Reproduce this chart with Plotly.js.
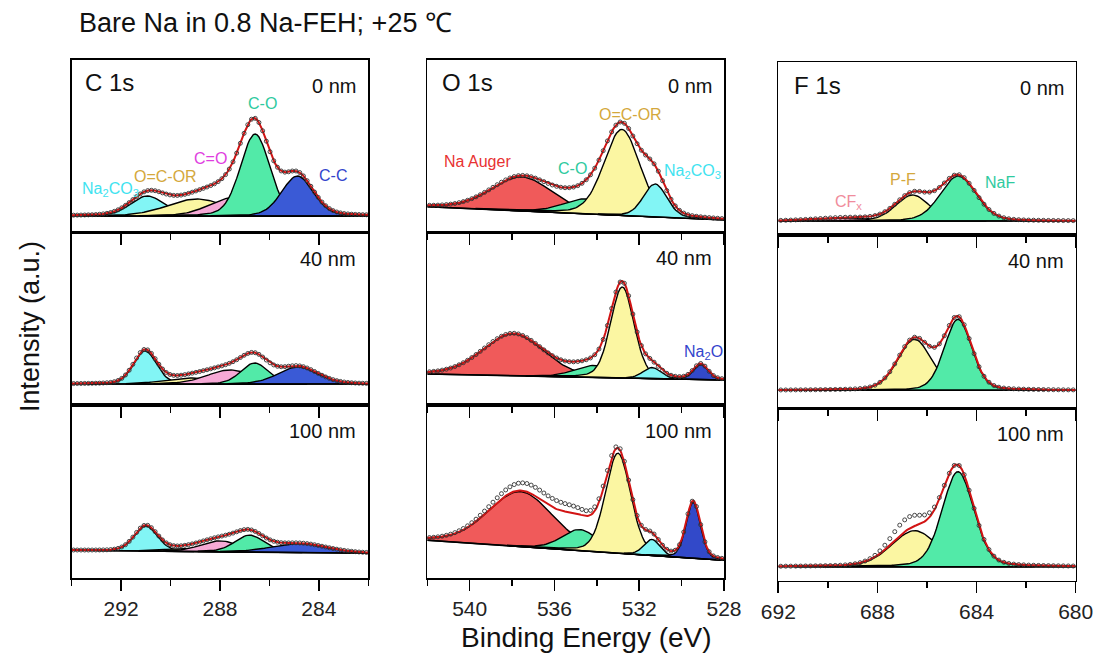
<!DOCTYPE html>
<html>
<head>
<meta charset="utf-8">
<script src="https://cdn.plot.ly/plotly-3.0.1.min.js"></script>
<style>html,body{margin:0;padding:0;background:#fff}#chart{width:1100px;height:659px}</style>
</head>
<body>
<div id="chart"></div>
<script>
// ---------------- DATA ----------------
const c1sRange = [294, 282];
const o1sRange = [542, 528];
const f1sRange = [692, 680];

const depthLabels = ['0 nm', '40 nm', '100 nm'];

// C 1s components
const c1sNames = ['Na2CO3', 'O=C-OR', 'C=O', 'C-O', 'C-C'];
const c1s0Center = [290.94, 288.94, 287.53, 286.58, 284.87];
const c1s0Height = [20, 17, 18, 82, 40];
const c1s0Fwhm   = [1.6, 2.8, 2.2, 1.4, 1.5];
const c1s40Center = [291.03, 289.2, 287.6, 286.6, 284.85];
const c1s40Height = [33, 6, 14, 21, 17];
const c1s40Fwhm   = [1.1, 2.4, 2.2, 1.3, 1.9];
const c1s100Center = [291.0, 289.3, 288.0, 286.8, 284.8];
const c1s100Height = [25, 3, 11, 17, 9];
const c1s100Fwhm   = [1.1, 2.2, 1.8, 1.4, 2.6];
const c1sBaseline = [[16.7, 16.7], [21, 21], [28, 25]];

// O 1s components
const o1s0Names = ['Na Auger', 'C-O', 'O=C-OR', 'Na2CO3'];
const o1s0Center = [537.54, 534.47, 532.82, 531.25];
const o1s0Height = [34, 15, 86, 33];
const o1s0Fwhm   = [3.4, 2.6, 2.0, 1.3];
const o1sNames = ['Na Auger', 'C-O', 'O=C-OR', 'Na2CO3', 'Na2O'];
const o1s40Center = [537.95, 534.1, 532.8, 531.4, 529.1];
const o1s40Height = [42, 12, 91, 11, 15];
const o1s40Fwhm   = [3.4, 2.2, 1.3, 1.0, 0.8];
const o1s100Center = [537.6, 534.8, 533.0, 531.4, 529.45];
const o1s100Height = [55, 21, 100, 16, 56];
const o1s100Fwhm   = [3.6, 2.0, 1.4, 0.9, 0.8];
const o1sBaseline = [[25.6, 12.3], [31, 25], [38, 18]];
// measured counts above the fit (unfitted shoulder): center, height, fwhm
const o1s100Excess = [536.5, 9, 4.5];

// F 1s components
const f1s0Names = ['CFx', 'P-F', 'NaF'];
const f1s0Center = [689.2, 686.58, 684.74];
const f1s0Height = [3, 26, 45];
const f1s0Fwhm   = [3.0, 1.6, 1.7];
const f1sNames = ['P-F', 'NaF'];
const f1s40Center = [686.5, 684.75];
const f1s40Height = [51, 71];
const f1s40Fwhm   = [1.6, 1.3];
const f1s100Center = [686.5, 684.75];
const f1s100Height = [36, 95];
const f1s100Fwhm   = [2.2, 1.5];
const f1sBaseline = [[14, 14], [18, 18], [14, 14]];
const f1s100Excess = [686.8, 12, 1.5];

// ---------------- STYLE ----------------
const fillColors = {
  'Na2CO3': '#82f5f5', 'O=C-OR': '#fbf6a2', 'C=O': '#f6a9d6', 'C-O': '#52eaa8',
  'C-C': '#3a5ad6', 'Na Auger': '#f05a5a', 'Na2O': '#3249c9', 'CFx': '#f6b0c8',
  'P-F': '#fbf6a2', 'NaF': '#52eaa8'
};
const FONT = 'Liberation Sans, Arial, Helvetica, sans-serif';
const W = 1100, H = 659;
const px2x = p => p / W;
const px2y = p => 1 - p / H;

const colX = [[71.7, 368.3], [427.3, 724], [778.3, 1075.7]];
const rowY = [
  [[60, 232.7], [232.7, 405], [405, 578.3]],
  [[60, 232.3], [232.3, 405], [405, 578.3]],
  [[62.3, 235], [235, 408.3], [408.3, 580.7]]
];
const dataStep = [0.15, 0.2, 0.2];

const panels = [
  {col:0,row:0, range:c1sRange, names:c1sNames, c:c1s0Center, h:c1s0Height, w:c1s0Fwhm, bl:c1sBaseline[0]},
  {col:0,row:1, range:c1sRange, names:c1sNames, c:c1s40Center, h:c1s40Height, w:c1s40Fwhm, bl:c1sBaseline[1]},
  {col:0,row:2, range:c1sRange, names:c1sNames, c:c1s100Center, h:c1s100Height, w:c1s100Fwhm, bl:c1sBaseline[2]},
  {col:1,row:0, range:o1sRange, names:o1s0Names, c:o1s0Center, h:o1s0Height, w:o1s0Fwhm, bl:o1sBaseline[0]},
  {col:1,row:1, range:o1sRange, names:o1sNames, c:o1s40Center, h:o1s40Height, w:o1s40Fwhm, bl:o1sBaseline[1]},
  {col:1,row:2, range:o1sRange, names:o1sNames, c:o1s100Center, h:o1s100Height, w:o1s100Fwhm, bl:o1sBaseline[2], ex:o1s100Excess},
  {col:2,row:0, range:f1sRange, names:f1s0Names, c:f1s0Center, h:f1s0Height, w:f1s0Fwhm, bl:f1sBaseline[0]},
  {col:2,row:1, range:f1sRange, names:f1sNames, c:f1s40Center, h:f1s40Height, w:f1s40Fwhm, bl:f1sBaseline[1]},
  {col:2,row:2, range:f1sRange, names:f1sNames, c:f1s100Center, h:f1s100Height, w:f1s100Fwhm, bl:f1sBaseline[2], ex:f1s100Excess}
];

// Gaussian-Lorentzian (GL20) line shape, as used for XPS component fits
const GL = 0.2;
const g = (E, c, h, w) => {
  const u = (E - c) * (E - c) / (w * w);
  return h * ((1 - GL) * Math.exp(-4 * Math.LN2 * u) + GL / (1 + 4 * u));
};

const traces = [];
const layout = {
  width: W, height: H, margin: {l:0, r:0, t:0, b:0},
  paper_bgcolor: '#fff', plot_bgcolor: '#fff', showlegend: false,
  font: {family: FONT, color: '#111'},
  annotations: []
};

panels.forEach((p, i) => {
  const k = i + 1;
  const xa = k === 1 ? 'x' : 'x' + k;
  const ya = k === 1 ? 'y' : 'y' + k;
  const hi = p.range[0], lo = p.range[1];
  const ry = rowY[p.col][p.row];
  const hPx = ry[1] - ry[0];
  const base = E => p.bl[0] + (p.bl[1] - p.bl[0]) * (hi - E) / (hi - lo);

  p.c.forEach((c, j) => {
    const xs = [], ys = [];
    const n = 160;
    const pts = [];
    for (let m = 0; m <= n; m++) {
      const E = hi - (hi - lo) * m / n;
      const v = g(E, c, p.h[j], p.w[j]);
      if (v > 0.35) pts.push([E, v]);
    }
    pts.forEach(q => { xs.push(q[0]); ys.push(base(q[0]) + q[1]); });
    for (let m = pts.length - 1; m >= 0; m--) { xs.push(pts[m][0]); ys.push(base(pts[m][0])); }
    traces.push({x: xs, y: ys, xaxis: xa, yaxis: ya, mode: 'lines', fill: 'toself',
      fillcolor: fillColors[p.names[j]], line: {color: '#000', width: 1.4}, hoverinfo: 'skip'});
  });
  traces.push({x: [hi, lo], y: [base(hi), base(lo)], xaxis: xa, yaxis: ya, mode: 'lines',
    line: {color: '#000', width: 1.6}, hoverinfo: 'skip'});

  const ex = [], ey = [], dx = [], dy = [];
  for (let E = hi; E >= lo - 1e-9; E -= 0.05) {
    let s = base(E);
    p.c.forEach((c, j) => { s += g(E, c, p.h[j], p.w[j]); });
    ex.push(E); ey.push(s);
  }
  const st = dataStep[p.col];
  for (let E = hi - st / 2; E >= lo; E -= st) {
    let s = base(E);
    p.c.forEach((c, j) => { s += g(E, c, p.h[j], p.w[j]); });
    if (p.ex) s += p.ex[1] * Math.exp(-4 * Math.LN2 * (E - p.ex[0]) * (E - p.ex[0]) / (p.ex[2] * p.ex[2]));
    dx.push(E); dy.push(s);
  }
  traces.push({x: ex, y: ey, xaxis: xa, yaxis: ya, mode: 'lines',
    line: {color: '#d21414', width: 2}, hoverinfo: 'skip'});
  traces.push({x: dx, y: dy, xaxis: xa, yaxis: ya, mode: 'markers',
    marker: {symbol: 'circle-open', size: 4, color: '#333', line: {width: 0.9}}, hoverinfo: 'skip'});

  layout[k === 1 ? 'xaxis' : 'xaxis' + k] = {
    domain: [px2x(colX[p.col][0]), px2x(colX[p.col][1])],
    anchor: ya, range: [hi, lo], showgrid: false, zeroline: false,
    showline: true, mirror: true, linecolor: '#000', linewidth: 1.6,
    ticks: 'outside', ticklen: 11, tickwidth: 1.6, tickcolor: '#000',
    tick0: 0, dtick: 4, showticklabels: p.row === 2,
    tickfont: {size: 21, color: '#222', family: FONT},
    minor: {ticks: 'outside', ticklen: 6, tickwidth: 1.4, tickcolor: '#000', dtick: 2, tick0: 0, showgrid: false}
  };
  layout[k === 1 ? 'yaxis' : 'yaxis' + k] = {
    domain: [px2y(ry[1]), px2y(ry[0])], anchor: xa, range: [0, hPx],
    showgrid: false, zeroline: false, showticklabels: false, ticks: '',
    showline: true, mirror: true, linecolor: '#000', linewidth: 1.6
  };

  layout.annotations.push({xref: 'paper', yref: 'paper', x: px2x(colX[p.col][1] - 10), y: px2y(ry[0] + 26),
    xanchor: 'right', yanchor: 'middle', showarrow: false, text: depthLabels[p.row],
    font: {size: 20, color: '#111'}});
});

[['C 1s', 83], ['O 1s', 440], ['F 1s', 792]].forEach((t, c) => {
  layout.annotations.push({xref: 'paper', yref: 'paper', x: px2x(t[1]), y: px2y(rowY[c][0][0] + 23),
    xanchor: 'left', yanchor: 'middle', showarrow: false, text: t[0], font: {size: 24, color: '#111'}});
});

// component labels [text, color, xpx, ypx]
const compLabels = [
  ['Na<sub>2</sub>CO<sub>3</sub>', '#3fe3f0', 110, 189],
  ['O=C-OR', '#d4a83c', 165, 177],
  ['C=O', '#e03ee0', 211, 159],
  ['C-O', '#2fcaa0', 262, 103],
  ['C-C', '#3344cc', 333, 176],
  ['Na Auger', '#e83232', 477, 162],
  ['C-O', '#2fcaa0', 572, 169],
  ['O=C-OR', '#d4a83c', 630, 114],
  ['Na<sub>2</sub>CO<sub>3</sub>', '#3fe3f0', 692, 172],
  ['Na<sub>2</sub>O', '#3344cc', 703, 352],
  ['CF<sub>x</sub>', '#f08c9c', 848, 202],
  ['P-F', '#d4a83c', 903, 180],
  ['NaF', '#2fcaa0', 1000, 182]
];
compLabels.forEach(l => {
  layout.annotations.push({xref: 'paper', yref: 'paper', x: px2x(l[2]), y: px2y(l[3]),
    xanchor: 'center', yanchor: 'middle', showarrow: false, text: l[0], font: {size: 16, color: l[1]}});
});

layout.annotations.push({xref: 'paper', yref: 'paper', x: px2x(77), y: px2y(23), xanchor: 'left', yanchor: 'middle',
  showarrow: false, text: 'Bare Na in 0.8 Na-FEH; +25 ℃', font: {size: 27, color: '#111'}});
layout.annotations.push({xref: 'paper', yref: 'paper', x: px2x(586), y: px2y(637), xanchor: 'center', yanchor: 'middle',
  showarrow: false, text: 'Binding Energy (eV)', font: {size: 28, color: '#111'}});
layout.annotations.push({xref: 'paper', yref: 'paper', x: px2x(30), y: px2y(327), xanchor: 'center', yanchor: 'middle',
  showarrow: false, textangle: -90, text: 'Intensity (a.u.)', font: {size: 27, color: '#111'}});

Plotly.newPlot('chart', traces, layout, {staticPlot: true, displayModeBar: false});
</script>
</body>
</html>
